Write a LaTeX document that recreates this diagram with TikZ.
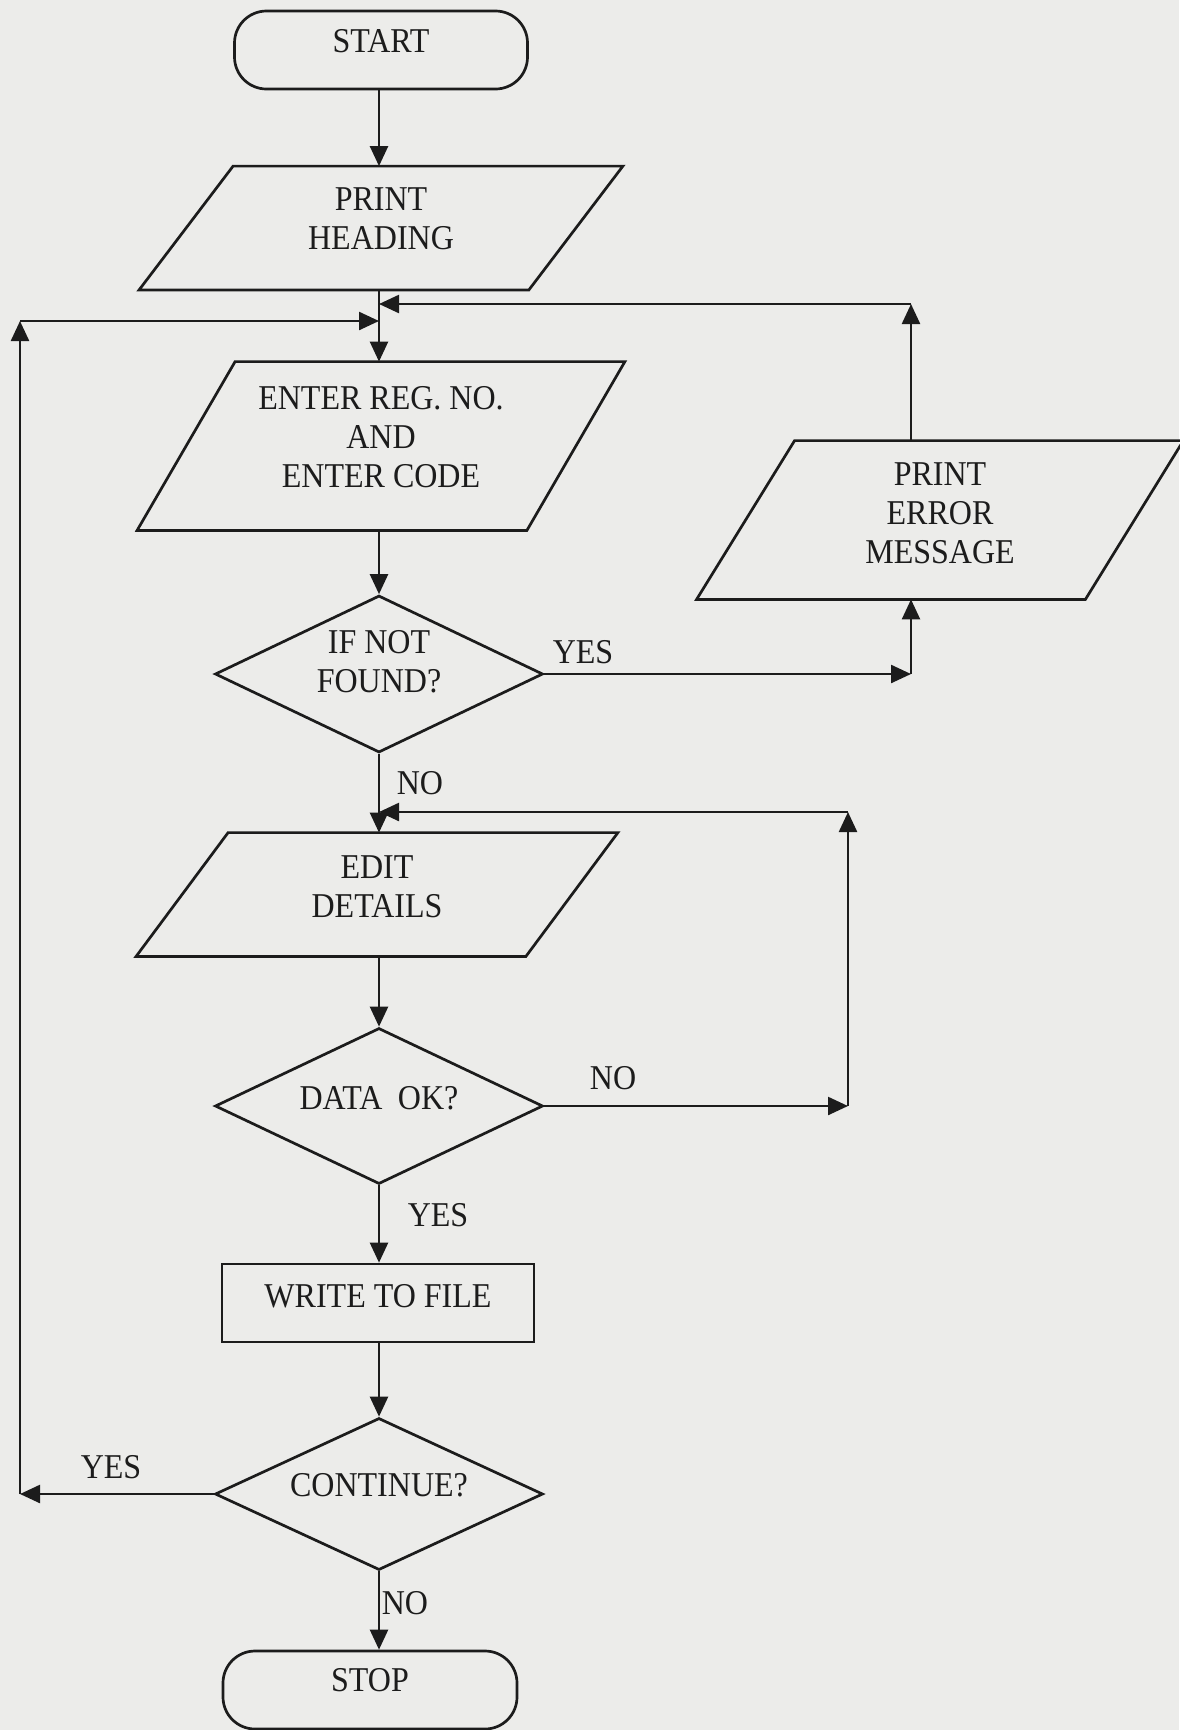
\documentclass[tikz,border=0pt]{standalone}
\usepackage{fontspec}
\setmainfont{Liberation Serif}[FakeStretch=0.92]
\usetikzlibrary{arrows.meta,shapes.geometric}
\definecolor{ink}{RGB}{28,28,28}
\definecolor{paper}{RGB}{236,236,234}
\begin{document}
\begin{tikzpicture}[x=0.5pt,y=-0.5pt,
  ln/.style={line width=1.35pt, draw=ink},
  cn/.style={line width=1.2pt, draw=ink},
  arr/.style={cn, -{Triangle[length=10pt,width=9pt]}},
  txt/.style={font=\fontsize{17.4pt}{19.5pt}\selectfont, align=center, text=ink, inner sep=0pt},
  lbl/.style={txt},
  term/.style={ln, rounded corners=16pt, minimum width=146.5pt, minimum height=39pt, inner sep=0pt},
  frame/.style={draw=none, inner sep=0pt, minimum width=194.5pt},
  decision/.style={ln, diamond, inner sep=0pt, minimum width=164pt},
  procbox/.style={ln, rectangle, inner sep=0pt, minimum width=156pt, minimum height=39pt}
]
\fill[paper] (0,0) rectangle (1179,1730);
\useasboundingbox (0,0) rectangle (1179,1730);

% ---- shapes ----
\node[term] (start) at (381,50) {};
\node[txt, yshift=4.5pt] (startt) at (start.center) {START};

\node[frame, minimum height=61.5pt] (ph) at (381,228) {};
\draw[ln] ([xshift=23.5pt]ph.north west) -- ([xshift=23.5pt]ph.north east)
  -- ([xshift=-23.5pt]ph.south east) -- ([xshift=-23.5pt]ph.south west) -- cycle;
\node[txt, yshift=4.5pt] (pht) at (ph.center) {PRINT\\HEADING};

\node[frame, minimum height=84pt] (enter) at (381,446) {};
\draw[ln] ([xshift=24.5pt]enter.north west) -- ([xshift=24.5pt]enter.north east)
  -- ([xshift=-24.5pt]enter.south east) -- ([xshift=-24.5pt]enter.south west) -- cycle;
\node[txt, yshift=4.5pt] (entert) at (enter.center) {ENTER REG. NO.\\AND\\ENTER CODE};

\node[frame, minimum width=194pt, minimum height=79pt] (err) at (940,520) {};
\draw[ln] ([xshift=24.5pt]err.north west) -- ([xshift=24.5pt]err.north east)
  -- ([xshift=-24.5pt]err.south east) -- ([xshift=-24.5pt]err.south west) -- cycle;
\node[txt, yshift=3.5pt] (errt) at (err.center) {PRINT\\ERROR\\MESSAGE};

\node[decision, minimum height=78.5pt] (if) at (379,674) {};
\node[txt, yshift=6pt] (ift) at (if.center) {IF NOT\\FOUND?};

\node[frame, minimum height=61.5pt] (edit) at (377,894.5) {};
\draw[ln] ([xshift=23pt]edit.north west) -- ([xshift=23pt]edit.north east)
  -- ([xshift=-23pt]edit.south east) -- ([xshift=-23pt]edit.south west) -- cycle;
\node[txt, yshift=4pt] (editt) at (edit.center) {EDIT\\DETAILS};

\node[decision, minimum height=78pt] (data) at (379,1106) {};
\node[txt, yshift=4pt] (datat) at (data.center) {DATA\hspace{0.45em}OK?};

\node[procbox] (write) at (378,1303) {};
\node[txt, yshift=3.5pt] (writet) at (write.center) {WRITE TO FILE};

\node[decision, minimum height=76pt] (cont) at (379,1494) {};
\node[txt, yshift=4.5pt] (contt) at (cont.center) {CONTINUE?};

\node[term, minimum width=147pt] (stop) at (370,1690) {};
\node[txt, yshift=5pt] (stopt) at (stop.center) {STOP};

% ---- helper points ----
\coordinate (j1) at (379,304);
\coordinate (j2) at (379,321);
\coordinate (j3) at (379,812);
\coordinate (ecol) at (911,0);
\coordinate (etop) at (911,304);
\coordinate (yr) at (911,674);
\coordinate (dr) at (848,1106);
\coordinate (dt) at (848,812);
\coordinate (lb) at (20,1494);
\coordinate (lt) at (20,321);

% ---- connectors ----
\draw[arr] (start.south -| j1) -- (ph.north -| j1);
\draw[arr] (ph.south -| j1) -- (enter.north -| j1);
\draw[arr] (enter.south -| j1) -- (if.north);
\draw[arr] (err.north -| ecol) -- (etop);
\draw[arr] (etop) -- (j1);
\draw[arr] (if.east) -- (yr);
\draw[arr] (yr) -- (err.south -| ecol);
\draw[arr] (if.south) -- (edit.north -| if.south);
\draw[arr] (data.east) -- (dr);
\draw[arr] (dr) -- (dt);
\draw[arr] (dt) -- (j3);
\draw[arr] (edit.south -| data.north) -- (data.north);
\draw[arr] (data.south) -- (write.north -| data.south);
\draw[arr] (write.south -| cont.north) -- (cont.north);
\draw[arr] (cont.south) -- (stop.north -| cont.south);
\draw[arr] (cont.west) -- (lb);
\draw[arr] (lb) -- (lt);
\draw[arr] (lt) -- (j2);

% ---- branch labels ----
\node[lbl] (l1) at (583,652) {YES};
\node[lbl] (l2) at (420,783) {NO};
\node[lbl] (l3) at (613,1078) {NO};
\node[lbl] (l4) at (438,1215) {YES};
\node[lbl] (l5) at (111,1467) {YES};
\node[lbl] (l6) at (405,1603) {NO};
\end{tikzpicture}
\end{document}
